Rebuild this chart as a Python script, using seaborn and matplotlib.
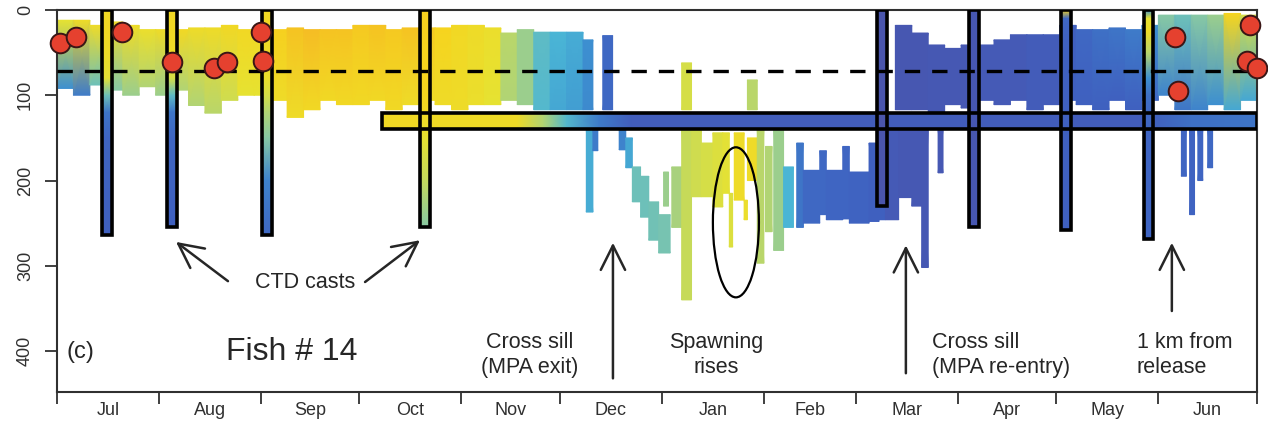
import numpy as np
import pandas as pd
import matplotlib
matplotlib.use("Agg")
import matplotlib.pyplot as plt
from matplotlib.colors import LinearSegmentedColormap, Normalize
from matplotlib.patches import Rectangle, Ellipse
import seaborn as sns

# ---------------------------------------------------------------------------
# Fish #14 archival tag record. Time axis: days since 1 July.
# Temperature is given as a 0-1 index along the colour scale (cold -> warm).
# ---------------------------------------------------------------------------

# Upper water column record, per time bin: start day, bin width (days),
# shallowest / deepest depth (m), temperature index at top / bottom of range
upper_day = [0, 5, 10, 15, 20, 25, 30, 35, 40, 45, 50, 55, 60, 65, 70, 75, 80,
             85, 90, 95, 100, 105, 110, 115, 120, 125, 130, 135, 140, 145, 150,
             155, 160, 166, 190, 210, 255, 260, 265, 270, 275, 280, 285, 290,
             295, 300, 305, 310, 315, 320, 325, 330, 335, 340, 345, 350, 355, 360]
upper_width = [5] * 32 + [3, 3, 3, 3] + [5] * 22
upper_top = [12, 12, 18, 14, 18, 23, 23, 23, 21, 21, 18, 23, 18, 23, 21, 23, 23,
             23, 18, 18, 23, 21, 21, 21, 18, 18, 21, 27, 23, 26, 26,
             26, 35, 30, 62, 82, 18, 27, 41, 45, 41, 41, 35, 29,
             29, 29, 18, 23, 23, 21, 23, 18, 6, 6, 6, 6, 4, 6]
upper_bottom = [92, 100, 88, 94, 100, 90, 100, 94, 112, 121, 106, 100, 100, 106,
                126, 117, 106, 111, 111, 106, 117, 111, 106, 111, 117, 111, 111,
                106, 111, 117, 117, 117, 117, 117, 117, 117, 117, 117, 120, 111,
                115, 106, 111, 106, 117, 111, 106, 111, 117, 106, 117, 106, 100,
                117, 117, 111, 117, 106]
upper_t_top = [.75, .80, .80, .80, .80, .78, .80, .82, .80, .80, .82, .82, .82,
               .86, .90, .92, .90, .90, .88, .90, .88, .90, .88, .85, .82, .80,
               .78, .62, .55, .42, .38, .36, .30, .15, .70, .62, .06, .06, .07,
               .07, .07, .08, .08, .08, .09, .09, .12, .15, .18, .20, .22, .30,
               .50, .45, .50, .55, .85, .70]
upper_t_bottom = [.30, .22, .45, .50, .55, .60, .55, .60, .60, .62, .68, .75,
                  .75, .80, .80, .82, .82, .82, .82, .82, .82, .80, .80, .80,
                  .80, .78, .75, .60, .55, .40, .35, .33, .28, .15, .70, .62,
                  .06, .06, .07, .07, .07, .08, .08, .08, .09, .09, .12, .12,
                  .12, .12, .12, .15, .25, .20, .25, .30, .35, .35]

# Deep excursions below the sill depth: start day, width, top, bottom, temperature
deep_day = [161, 163, 171, 173, 175, 177.5, 180, 183, 184.5, 187, 190, 193,
            196, 199.5, 202.5, 204.5, 206, 209, 210, 213, 215.5, 218, 221, 225,
            227, 232, 234, 239, 241, 247, 250, 252, 256, 260, 263, 268, 342,
            344.5, 347, 350]
deep_width = [2, 1.5, 2, 2, 2.5, 2.5, 3, 3.5, 1.5, 3, 3, 3,
              3.5, 3, 2, 1, 3, 1, 3, 2, 2, 3, 3, 2,
              5, 2, 5, 2, 6, 3, 2, 4, 4, 3, 2, 1.5, 1.5,
              1.5, 1.5, 1.5]
deep_top = [141, 141, 141, 150, 184, 195, 225, 240, 190, 184, 141, 141,
            156, 144, 144, 215, 144, 223, 150, 141, 160, 141, 184, 156,
            188, 165, 188, 160, 190, 156, 190, 141, 141, 141, 141, 141, 141,
            141, 141, 141]
deep_bottom = [237, 165, 164, 185, 225, 243, 270, 285, 230, 255, 340, 219,
               219, 231, 215, 278, 223, 246, 200, 297, 260, 282, 255, 255,
               250, 240, 246, 245, 250, 248, 246, 246, 220, 230, 302, 191, 195,
               240, 200, 185]
deep_t = [.36, .22, .25, .35, .45, .45, .46, .47, .55, .58, .66, .68,
          .70, .72, .74, .72, .80, .78, .80, .62, .60, .55, .38, .20,
          .15, .15, .14, .14, .13, .12, .12, .08, .07, .07, .07, .07, .14,
          .13, .14, .15]

# CTD casts: day, maximum depth, temperature index at fixed levels
cast_levels = [0, 10, 25, 50, 80, 100, 120, 150, 200, 300]
cast_day = [15.2, 35, 63.9, 112, 251, 279, 307, 332]
cast_bottom = [264, 255, 264, 255, 230, 255, 258, 268]
cast_profiles = [
    [.82, .82, .82, .80, .74, .45, .20, .14, .13, .12],
    [.82, .82, .82, .80, .70, .42, .20, .14, .13, .12],
    [.82, .82, .82, .80, .78, .70, .60, .50, .25, .15],
    [.86, .86, .86, .85, .85, .84, .82, .75, .65, .50],
    [.04, .04, .04, .04, .04, .04, .04, .04, .04, .04],
    [.06, .06, .06, .06, .06, .06, .06, .06, .06, .06],
    [.85, .15, .13, .12, .12, .12, .12, .12, .12, .12],
    [.30, .75, .80, .62, .30, .18, .15, .14, .14, .14],
]

# Sill-depth temperature strip
strip_top, strip_bottom = 121, 140
strip_day = [99, 140, 148, 155, 165, 175, 330, 345, 365]
strip_t = [.82, .80, .60, .40, .22, .10, .10, .18, .20]

# Surface positions
fix_day = [0.9, 5.8, 19.8, 35, 47.7, 51.7, 62, 62.7, 340, 341, 363, 362, 365]
fix_depth = [39, 32, 26, 61, 68, 61, 26, 60, 32, 95, 18, 60, 68]

thermocline_depth = 72

month_edges = [0, 31, 62, 92, 123, 153, 184, 215, 243, 274, 304, 335, 365]
month_labels = ["Jul", "Aug", "Sep", "Oct", "Nov", "Dec", "Jan", "Feb", "Mar",
                "Apr", "May", "Jun"]

# ---------------------------------------------------------------------------
sns.set_theme(style="ticks")
plt.rcParams["font.family"] = ["Liberation Sans", "DejaVu Sans"]
ink = "#262626"

cmap = LinearSegmentedColormap.from_list("temp", [
    (0.00, "#4f4fa3"), (0.12, "#3f60c0"), (0.30, "#3d90d0"),
    (0.38, "#4ab5d5"), (0.50, "#86c8a5"), (0.62, "#b9d66a"),
    (0.75, "#e6e232"), (0.85, "#f6d41e"), (1.00, "#f3a32a")])
norm = Normalize(0, 1)

fig = plt.figure(figsize=(12.68, 4.23), dpi=100)
ax = fig.add_axes([57 / 1268, 1 - 392 / 423, 1200 / 1268, 382 / 423])
ax.set_xlim(0, 365)
ax.set_ylim(448, 0)


def column(x0, w, top, bottom, t_top, t_bottom, z=2):
    X = np.array([[x0, x0 + w], [x0, x0 + w]])
    Y = np.array([[top, top], [bottom, bottom]])
    C = np.array([[t_top, t_top], [t_bottom, t_bottom]])
    ax.pcolormesh(X, Y, C, shading="gouraud", cmap=cmap, norm=norm,
                  zorder=z, antialiased=True)


for d, w, a, b, ta, tb in zip(upper_day, upper_width, upper_top, upper_bottom,
                              upper_t_top, upper_t_bottom):
    column(d, w, a, b, ta, tb)

for d, w, a, b, t in zip(deep_day, deep_width, deep_top, deep_bottom, deep_t):
    column(d, w, a, b, t, t)

# sill-depth strip
sx = np.array(strip_day, dtype=float)
ax.pcolormesh(np.vstack([sx, sx]),
              np.vstack([np.full_like(sx, strip_top), np.full_like(sx, strip_bottom)]),
              np.vstack([strip_t, strip_t]), shading="gouraud", cmap=cmap,
              norm=norm, zorder=3)

# CTD casts
half = 1.5
lev = np.array(cast_levels, dtype=float)
for d, bot, prof in zip(cast_day, cast_bottom, cast_profiles):
    yy = np.minimum(lev, bot)
    X = np.column_stack([np.full_like(yy, d - half), np.full_like(yy, d + half)])
    Y = np.column_stack([yy, yy])
    C = np.column_stack([prof, prof])
    ax.pcolormesh(X, Y, C, shading="gouraud", cmap=cmap, norm=norm, zorder=4)

for d, bot in zip(cast_day, cast_bottom):
    ax.add_patch(Rectangle((d - half, 0), 2 * half, bot, fill=False,
                           ec="black", lw=2.6, zorder=6))
ax.add_patch(Rectangle((strip_day[0], strip_top), strip_day[-1] - strip_day[0],
                       strip_bottom - strip_top, fill=False, ec="black",
                       lw=2.6, zorder=6))

# thermocline reference line
ax.axhline(thermocline_depth, color="black", lw=2.4, dashes=(4.6, 3.6),
           zorder=7)

# surface fixes
fixes = pd.DataFrame({"day": fix_day, "depth": fix_depth})
sns.scatterplot(data=fixes, x="day", y="depth", ax=ax, s=200,
                color="#e5412f", edgecolor="#3a1616", linewidth=1.4,
                zorder=8, clip_on=False)

# spawning rises
ax.add_patch(Ellipse((206.5, 249), 14, 176, fill=False, ec="black", lw=1.6,
                     zorder=7))

# annotations
arrow = dict(arrowstyle="->,head_length=0.7,head_width=0.35", lw=1.8,
             color=ink, mutation_scale=25, shrinkA=0, shrinkB=0)
txt = dict(fontsize=15.5, color=ink)
ax.annotate("", xy=(36.2, 272), xytext=(52, 318), arrowprops=arrow)
ax.annotate("", xy=(110.4, 270), xytext=(93.7, 319), arrowprops=arrow)
ax.text(75.4, 320, "CTD casts", ha="center", va="center", **txt)

ax.annotate("", xy=(169.1, 273), xytext=(169.1, 432), arrowprops=arrow)
ax.annotate("", xy=(258.2, 276), xytext=(258.2, 426), arrowprops=arrow)
ax.annotate("", xy=(339.1, 273), xytext=(339.1, 353), arrowprops=arrow)

ax.text(143.9, 405, "Cross sill\n(MPA exit)", ha="center", va="center",
        linespacing=1.25, **txt)
ax.text(200.5, 405, "Spawning\nrises", ha="center", va="center",
        linespacing=1.25, **txt)
ax.text(266.1, 405, "Cross sill\n(MPA re-entry)", ha="left", va="center",
        linespacing=1.25, **txt)
ax.text(328.5, 405, "1 km from\nrelease", ha="left", va="center",
        linespacing=1.25, **txt)

ax.text(3, 401, "(c)", ha="left", va="center", fontsize=17, color=ink)
ax.text(51.4, 401, "Fish # 14", ha="left", va="center", fontsize=23, color=ink)

# axes styling
for s in ax.spines.values():
    s.set_linewidth(1.5)
    s.set_color("#303030")
ax.set_yticks([0, 100, 200, 300, 400])
ax.set_yticklabels(["0", "100", "200", "300", "400"], rotation=90, va="center")
ax.tick_params(axis="y", length=8.5, width=1.3, pad=8, labelsize=13,
               colors="#303030", direction="out")
ax.set_xticks(month_edges)
ax.set_xticklabels([""] * len(month_edges))
mids = [(a + b) / 2 for a, b in zip(month_edges[:-1], month_edges[1:])]
ax.set_xticks(mids, minor=True)
ax.set_xticklabels(month_labels, minor=True)
ax.tick_params(axis="x", which="major", length=8.5, width=1.3,
               colors="#303030", direction="out")
ax.tick_params(axis="x", which="minor", length=0, pad=7, labelsize=13,
               colors="#303030")
ax.set_xlabel("")
ax.set_ylabel("")

fig.savefig("out.png", dpi=100, facecolor="white")
